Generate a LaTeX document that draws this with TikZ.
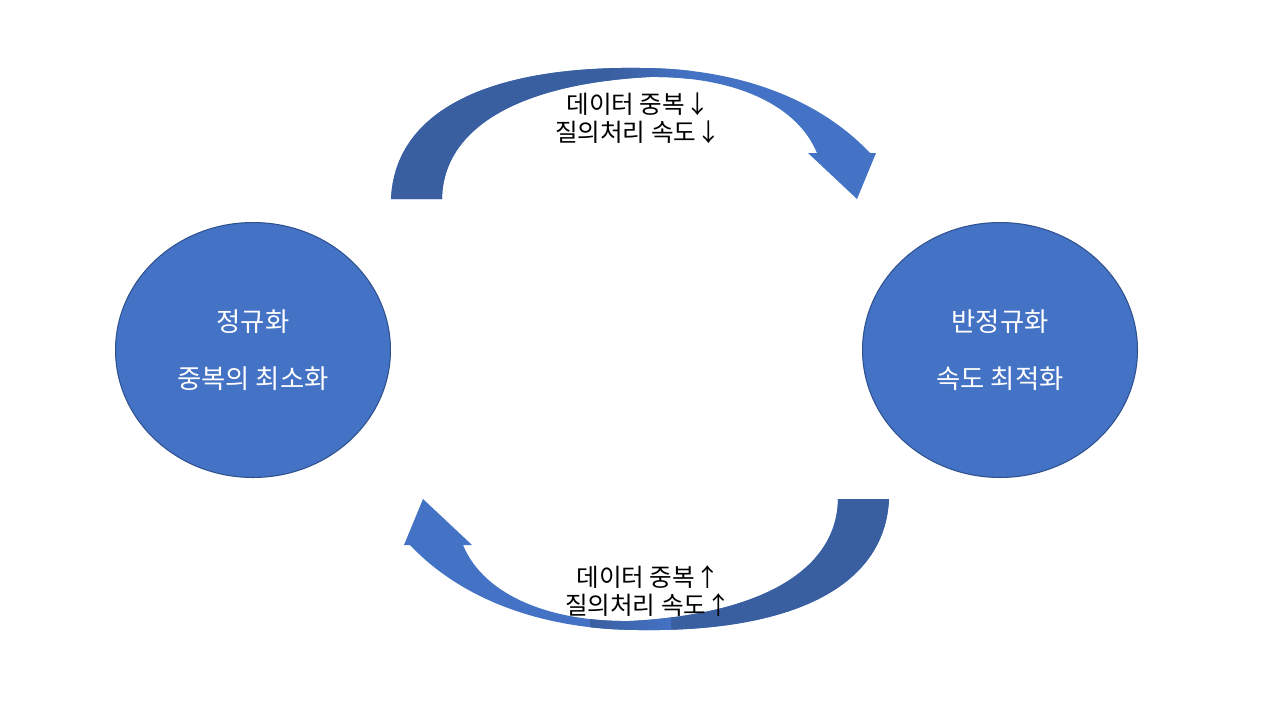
\documentclass[tikz,border=0pt]{standalone}
\usepackage{fontspec}
\setmainfont{Noto Sans CJK KR}
\usetikzlibrary{shapes.geometric}
\definecolor{ppblue}{HTML}{4472C4}
\definecolor{ppedge}{HTML}{2F528F}
\definecolor{ppdark}{HTML}{3A5FA0}
\tikzset{
  bubble/.style={ellipse, fill=ppblue, draw=ppedge, line width=0.6pt,
    minimum width=5.5cm, minimum height=5.1cm, inner sep=0pt,
    text=white, align=center, font=\fontsize{15}{32.4}\selectfont},
  note/.style={align=center, font=\fontsize{14}{16}\selectfont}
}
% curved ribbon arrow, drawn once and turned for the lower one
\newcommand{\ribbon}{(391,199) .. controls (395,110) and (490,66) .. (640,68)
  .. controls (740,68) and (820,100) .. (870,153) -- (876,153) -- (857,199)
  -- (808,153) -- (817,153) .. controls (795,100) and (725,76) .. (650,77)
  .. controls (515,84) and (443,130) .. (442,199) -- cycle}
\begin{document}
\begin{tikzpicture}[x=0.02cm, y=-0.02cm]
\useasboundingbox (0,0) rectangle (1280,720);
\fill[white] (0,0) rectangle (1280,720);
\node[bubble] (norm) at (253,350) {정규화\\중복의 최소화};
\node[bubble] (denorm) at (1000,350) {반정규화\\속도 최적화};
\foreach \turn in {0,180} {
  \begin{scope}[rotate around={\turn:(640,349)}]
    \fill[ppblue] \ribbon;
    \clip \ribbon;
    \fill[ppdark] (0,0) rectangle (610,360);
    \shade[left color=ppdark, right color=ppblue] (609,0) rectangle (690,360);
  \end{scope}
}
\node[note] (uplbl) at (638,118) {데이터 중복↓\\질의처리 속도↓};
\node[note] (downlbl) at (648,591) {데이터 중복↑\\질의처리 속도↑};
\end{tikzpicture}
\end{document}
